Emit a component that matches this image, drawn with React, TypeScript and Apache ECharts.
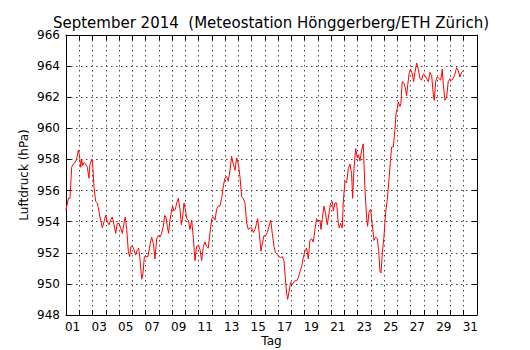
import React, { useEffect, useRef } from "react";
import * as echarts from "echarts";

const FONT = "DejaVu Sans";

const titleText = "September 2014  (Meteostation Hönggerberg/ETH Zürich)";

const dayLabels = [
  "01", "02", "03", "04", "05", "06", "07", "08", "09", "10",
  "11", "12", "13", "14", "15", "16", "17", "18", "19", "20",
  "21", "22", "23", "24", "25", "26", "27", "28", "29", "30", "31",
];

// time in days since 1 Sept 00:00
const times = [
  0.0, 0.18, 0.3, 0.43, 0.55, 0.68, 0.8, 0.93, 1.01, 1.11, 1.18, 1.26, 1.36, 1.48, 1.61, 1.73, 1.81, 1.94,
  2.01, 2.11, 2.24, 2.36, 2.44, 2.56, 2.74, 2.87, 2.99, 3.12, 3.24, 3.37, 3.49, 3.62, 3.75, 3.87, 4.0,
  4.12, 4.25, 4.37, 4.47, 4.58, 4.7, 4.8, 4.9, 5.03, 5.13, 5.25, 5.38, 5.48, 5.58, 5.71, 5.81, 5.91,
  6.03, 6.18, 6.33, 6.46, 6.59, 6.71, 6.84, 6.96, 7.09, 7.21, 7.34, 7.44, 7.54, 7.64, 7.74, 7.84, 7.94,
  8.04, 8.14, 8.25, 8.35, 8.47, 8.6, 8.7, 8.8, 8.9, 9.0, 9.1, 9.23, 9.35, 9.48, 9.6, 9.73, 9.85, 9.98,
  10.11, 10.23, 10.36, 10.48, 10.61, 10.73, 10.86, 10.99, 11.11, 11.24, 11.36, 11.49, 11.61, 11.74, 11.87,
  11.99, 12.12, 12.24, 12.37, 12.49, 12.62, 12.75, 12.87, 13.0, 13.12, 13.25, 13.37, 13.5, 13.63, 13.75,
  13.88, 14.0, 14.13, 14.25, 14.38, 14.45, 14.58, 14.71, 14.81, 14.93, 15.06, 15.18, 15.31, 15.44, 15.56,
  15.69, 15.81, 15.94, 16.06, 16.19, 16.31, 16.44, 16.54, 16.64, 16.72, 16.82, 16.94, 17.1, 17.25, 17.4,
  17.52, 17.65, 17.77, 17.9, 18.02, 18.15, 18.28, 18.4, 18.53, 18.65, 18.78, 18.9, 19.03, 19.16, 19.23,
  19.33, 19.46, 19.58, 19.71, 19.83, 19.96, 20.09, 20.16, 20.29, 20.41, 20.54, 20.61, 20.71, 20.84, 20.91,
  21.04, 21.17, 21.29, 21.42, 21.54, 21.62, 21.72, 21.85, 21.97, 22.07, 22.17, 22.3, 22.42, 22.55, 22.67,
  22.75, 22.85, 22.98, 23.1, 23.23, 23.35, 23.48, 23.58, 23.68, 23.76, 23.86, 23.98, 24.11, 24.23, 24.36,
  24.48, 24.56, 24.69, 24.81, 24.89, 24.99, 25.06, 25.19, 25.26, 25.36, 25.49, 25.59, 25.69, 25.79, 25.89,
  25.99, 26.12, 26.22, 26.32, 26.45, 26.57, 26.7, 26.82, 26.95, 27.07, 27.2, 27.33, 27.45, 27.58, 27.7,
  27.78, 27.88, 28.0, 28.13, 28.26, 28.38, 28.46, 28.58, 28.71, 28.83, 28.96, 29.08, 29.21, 29.34, 29.46,
  29.59, 29.71, 29.84, 29.96,
];

// Luftdruck in hPa
const pressure = [
  954.75, 955.5, 955.5, 957.5, 957.7, 957.8, 958.0, 958.6, 958.3, 957.5, 958.0, 957.6, 957.8, 957.7, 957.5, 956.8, 957.7, 958.0,
  957.7, 956.25, 955.3, 955.2, 954.9, 954.3, 953.6, 954.0, 954.4, 954.0, 953.8, 954.1, 954.3, 953.8, 953.25, 953.9, 953.9,
  953.6, 953.25, 953.9, 954.3, 953.5, 952.1, 951.75, 952.4, 952.4, 952.2, 951.85, 952.2, 952.3, 951.6, 950.3, 950.7, 951.75,
  951.75, 951.75, 952.5, 953.0, 952.6, 951.6, 952.9, 953.1, 953.0, 953.25, 953.7, 954.4, 954.3, 953.7, 953.25, 954.1, 954.6,
  955.0, 954.7, 954.8, 955.2, 955.5, 954.8, 953.8, 954.3, 955.2, 954.8, 954.2, 954.1, 953.5, 954.1, 953.0, 951.5, 952.4, 952.5,
  952.2, 951.5, 952.4, 952.7, 952.4, 952.3, 953.25, 954.2, 954.3, 954.1, 954.8, 955.0, 955.0, 955.5, 956.3,
  956.8, 956.9, 956.6, 957.3, 958.2, 957.7, 957.3, 958.1, 957.7, 956.9, 955.6, 955.5, 955.2, 953.9, 953.5,
  953.6, 953.6, 953.3, 953.5, 953.9, 954.2, 953.25, 952.1, 952.6, 953.1, 953.1, 953.3, 953.7, 954.1, 953.25,
  952.4, 952.0, 951.9, 951.75, 951.7, 951.75, 951.5, 950.4, 949.4, 949.0, 949.5, 950.1, 950.0, 950.2, 950.2,
  950.4, 950.8, 951.1, 951.7, 952.1, 952.3, 951.6, 952.8, 952.9, 952.7, 953.5, 954.2, 954.0, 954.1, 953.5,
  954.2, 955.0, 954.5, 953.8, 954.5, 955.2, 955.3, 954.7, 955.2, 955.2, 953.9, 953.6, 953.9, 953.6, 955.2,
  956.6, 956.5, 957.4, 957.7, 957.1, 955.5, 957.4, 958.7, 958.1, 958.3, 957.9, 958.6, 959.0, 956.1, 954.3,
  953.7, 954.6, 954.8, 953.8, 952.8, 953.0, 952.9, 952.2, 950.8, 950.7, 952.0, 953.0, 954.6, 955.4, 956.7,
  958.0, 958.8, 958.8, 959.9, 960.9, 961.3, 961.7, 961.4, 961.6, 963.0, 962.9, 962.6, 962.1, 962.9, 963.6,
  963.8, 963.5, 963.0, 963.6, 964.2, 963.8, 963.2, 963.1, 963.5, 963.4, 963.2, 963.0, 963.6, 963.4, 962.2,
  961.8, 963.0, 963.3, 963.2, 963.1, 963.8, 962.8, 961.8, 962.0, 963.0, 963.2, 963.1, 963.2, 963.5, 963.9,
  963.7, 963.3, 963.6, 963.7,
];

const yMin = 948;
const yMax = 966;
const yStep = 2;

export default function App() {
  const ref = useRef<HTMLDivElement>(null);

  useEffect(() => {
    if (!ref.current) return;
    const chart = echarts.init(ref.current, null, { renderer: "svg" });
    const data = times.map((t, i) => [t, pressure[i]]);
    const axisLine = { show: true, lineStyle: { color: "#000", width: 1 } };
    const tick = { show: true, inside: true, length: 5, lineStyle: { color: "#000", width: 1 } };
    const grid = { show: true, lineStyle: { color: "#444", width: 1, type: [1.5, 3.5] } };
    const labelStyle = { color: "#000", fontSize: 12, fontFamily: FONT };

    chart.setOption({
      animation: false,
      backgroundColor: "#fff",
      grid: {
        left: 66,
        right: 53,
        top: 35,
        bottom: 35,
        containLabel: false,
        outerBoundsMode: "none",
      },
      graphic: [
        {
          type: "text",
          x: 271,
          y: 23,
          style: {
            text: titleText,
            fontSize: 15,
            fontFamily: FONT,
            fill: "#000",
            align: "center",
            verticalAlign: "middle",
          },
        },
      ],
      xAxis: [
        {
          type: "category",
          position: "bottom",
          data: dayLabels,
          boundaryGap: true,
          axisLine,
          axisTick: { ...tick, interval: 0, alignWithLabel: false },
          axisLabel: { ...labelStyle, interval: 1, margin: 6 },
          splitLine: { ...grid, interval: 0 },
          name: "Tag",
          nameLocation: "middle",
          nameGap: 20,
          nameMoveOverlap: false,
          nameTextStyle: labelStyle,
        },
        {
          type: "value",
          position: "top",
          min: 0,
          max: 31,
          interval: 1,
          axisLine,
          axisTick: tick,
          axisLabel: { show: false },
          splitLine: { show: false },
        },
      ],
      yAxis: [
        {
          type: "value",
          position: "left",
          min: yMin,
          max: yMax,
          interval: yStep,
          axisLine,
          axisTick: tick,
          axisLabel: { ...labelStyle, margin: 6 },
          splitLine: grid,
          name: "Luftdruck (hPa)",
          nameLocation: "middle",
          nameGap: 36,
          nameRotate: 90,
          nameMoveOverlap: false,
          nameTextStyle: labelStyle,
        },
        {
          type: "value",
          position: "right",
          min: yMin,
          max: yMax,
          interval: yStep,
          axisLine,
          axisTick: tick,
          axisLabel: { show: false },
          splitLine: { show: false },
        },
      ],
      series: [
        {
          type: "line",
          xAxisIndex: 1,
          yAxisIndex: 0,
          data,
          symbol: "none",
          showSymbol: false,
          silent: true,
          lineStyle: { color: "#ff0000", width: 1 },
        },
      ],
    });
    return () => chart.dispose();
  }, []);

  return (
    <div
      ref={ref}
      style={{ position: "fixed", left: 0, top: 0, width: 530, height: 350, background: "#fff" }}
    />
  );
}
